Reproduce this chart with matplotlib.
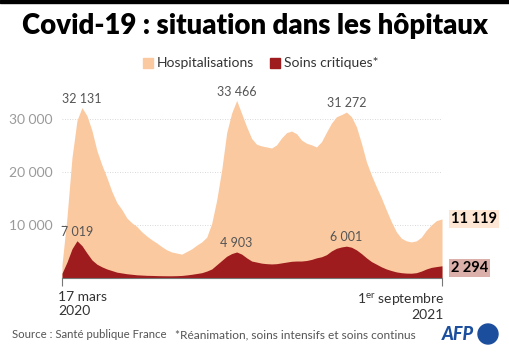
"""Covid-19 : situation dans les hôpitaux (AFP style), hospitalisations vs soins critiques."""
import matplotlib
matplotlib.use("Agg")
import matplotlib.pyplot as plt
import pandas as pd
from matplotlib.patches import Rectangle, Ellipse

plt.rcParams["font.family"] = ["Lato", "DejaVu Sans"]
plt.rcParams["mathtext.fontset"] = "custom"
plt.rcParams["mathtext.rm"] = "Lato"

# weekly readings from 17 March 2020, last point 1 September 2021
dates = list(pd.date_range("2020-03-17", "2021-08-31", freq="7D")) + [pd.Timestamp("2021-09-01")]

hospit = [
    2500, 11500, 22700, 29700, 32131, 30600, 27800, 24000, 21300, 18900,
    16300, 14200, 12900, 11300, 10400, 9700, 8700, 7900, 7200, 6600,
    5900, 5300, 4900, 4700, 4500, 5000, 5500, 6200, 6800, 7700,
    10300, 14700, 20400, 27400, 31100, 33466, 31000, 28500, 26300, 25200,
    24900, 24700, 24500, 25100, 26400, 27400, 27700, 27200, 26000, 25400,
    25100, 24700, 25700, 27500, 29200, 30400, 30800, 31272, 30400, 28500,
    25400, 21900, 19400, 17200, 15100, 12800, 10600, 8700, 7500, 7000,
    6800, 7000, 7700, 9000, 10000, 10800, 11100, 11119,
]
critique = [
    900, 3000, 5500, 7019, 6100, 4700, 3400, 2600, 2100, 1700,
    1400, 1100, 950, 800, 700, 600, 550, 500, 480, 450,
    430, 420, 420, 440, 480, 580, 700, 850, 1000, 1300,
    1700, 2500, 3300, 4100, 4600, 4903, 4500, 3800, 3200, 3000,
    2800, 2700, 2650, 2700, 2850, 3000, 3150, 3200, 3200, 3300,
    3500, 3800, 4000, 4400, 5100, 5600, 5850, 6001, 5800, 5300,
    4600, 3800, 3100, 2600, 2100, 1700, 1400, 1150, 1000, 920,
    900, 1000, 1300, 1700, 2000, 2150, 2280, 2294,
]

# peaks that get a label (index into the series)
hospit_peaks = [4, 35, 57]
critique_peaks = [3, 35, 57]

C_HOSP = "#fbc9a0"
C_CRIT = "#9e1b1e"
GREY = "#555555"

W, H = 510, 352


def fx(x):
    return x / W


def fy(y):
    return 1 - y / H


def fmt(v):
    return f"{v:,}".replace(",", " ")


fig = plt.figure(figsize=(W / 100, H / 100), dpi=100)
fig.patches.append(Rectangle((0, fy(3)), 1, 3 / H, transform=fig.transFigure,
                             color="black", zorder=5))

fig.text(0.5, fy(26), "Covid-19 : situation dans les hôpitaux", ha="center", va="center",
         fontsize=19.8, fontweight="heavy", color="black")

# legend drawn by hand
for x0, lab, col in [(143, "Hospitalisations", C_HOSP), (270, "Soins critiques*", C_CRIT)]:
    fig.patches.append(Rectangle((fx(x0), fy(68)), 10 / W, 10 / H,
                                 transform=fig.transFigure, color=col))
    fig.text(fx(x0 + 14), fy(63), lab, ha="left", va="center", fontsize=10, color="#333333")

ax = fig.add_axes([fx(62), fy(278), (442 - 62) / W, (278 - 87) / H])
ax.fill_between(dates, hospit, color=C_HOSP, lw=0, zorder=2)
ax.fill_between(dates, critique, color=C_CRIT, lw=0, zorder=3)
ax.set_xlim(dates[0], dates[-1])
ax.set_ylim(0, 36000)

ax.set_yticks([10000, 20000, 30000])
ax.set_yticklabels([fmt(v) for v in [10000, 20000, 30000]], color="#9a9a9a", fontsize=10)
ax.tick_params(axis="y", length=0, pad=7)
ax.grid(axis="y", color="#cccccc", lw=0.6, ls=(0, (1, 2)), zorder=1)

ax.set_xticks([dates[0], dates[-1]])
ax.set_xticklabels([])
ax.tick_params(axis="x", length=6, width=0.8, color="#777777")
for s in ["top", "right", "left"]:
    ax.spines[s].set_visible(False)
ax.spines["bottom"].set_color("#777777")
ax.spines["bottom"].set_linewidth(0.8)
ax.spines["bottom"].set_zorder(4)

ax.text(-0.01, -0.07, "17 mars\n2020", transform=ax.transAxes, ha="left", va="top",
        fontsize=10, color="#333333", linespacing=1.15)
ax.text(1.005, -0.07, "1$^{\\mathrm{er}}$ septembre\n2021", transform=ax.transAxes,
        ha="right", va="top", fontsize=10, color="#333333", linespacing=1.1,
        multialignment="right")

for series, peaks in [(hospit, hospit_peaks), (critique, critique_peaks)]:
    for i in peaks:
        ax.annotate(fmt(series[i]), (dates[i], series[i]), xytext=(0, 2),
                    textcoords="offset points", ha="center", va="bottom",
                    fontsize=9, color=GREY, zorder=6)

# last values at the right edge
yt = ax.get_yaxis_transform()
ax.text(1.024, hospit[-1], fmt(hospit[-1]), transform=yt, ha="left", va="center",
        fontsize=10.5, fontweight="bold", color="black",
        bbox=dict(boxstyle="square,pad=0.12", fc="#fde6d3", ec="none"))
ax.text(1.024, critique[-1] - 450, fmt(critique[-1]), transform=yt, ha="left", va="center",
        fontsize=10.5, fontweight="bold", color="black",
        bbox=dict(boxstyle="square,pad=0.12", fc="#dcb0aa", ec="none"))

fig.text(fx(12), fy(335), "Source : Santé publique France", ha="left", va="center",
         fontsize=8.2, color=GREY)
fig.text(fx(175), fy(335), "*Réanimation, soins intensifs et soins continus", ha="left",
         va="center", fontsize=8.6, color=GREY)

# AFP logo
fig.text(fx(442), fy(335), "AFP", ha="left", va="center", fontsize=13,
         fontweight="black", style="italic", color="#1c4e9e")
fig.patches.append(Ellipse((fx(488), fy(334)), 20 / W, 20 / H,
                           transform=fig.transFigure, color="#1c4e9e"))

fig.savefig("out.png", dpi=100)
